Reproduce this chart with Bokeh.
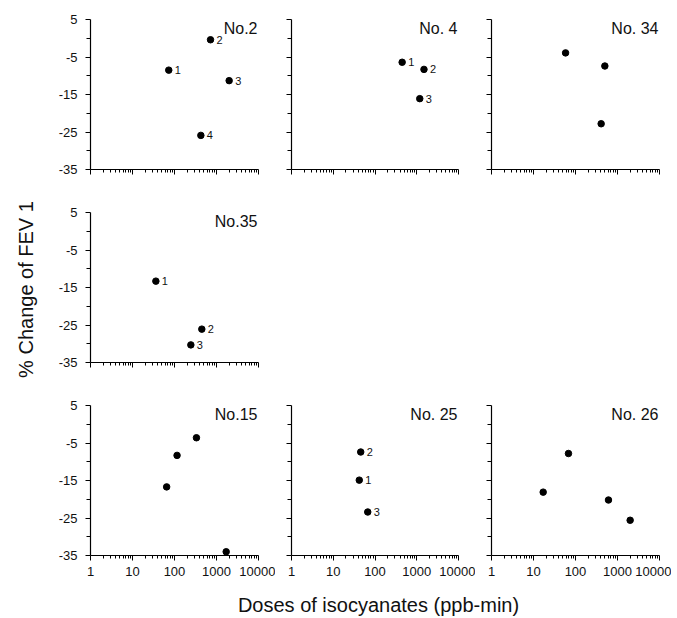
import math
from bokeh.plotting import figure
from bokeh.layouts import column, row
from bokeh.models import Range1d, FixedTicker, Label, CustomJSTickFormatter, ColumnDataSource
from bokeh.core.properties import value
from bokeh.embed import file_html
from bokeh.resources import INLINE

FONT = "Liberation Sans"

# ---- data ----
titles = ["No.2", "No. 4", "No. 34", "No.35", "No.15", "No. 25", "No. 26"]
x_no2 = [73, 720, 2000, 424]
y_no2 = [-8.5, -0.4, -11.3, -25.9]
l_no2 = ["1", "2", "3", "4"]
x_no4 = [447, 1490, 1180]
y_no4 = [-6.4, -8.3, -16.1]
l_no4 = ["1", "2", "3"]
x_no34 = [58, 500, 408]
y_no34 = [-3.9, -7.4, -22.8]
x_no35 = [36, 447, 245]
y_no35 = [-13.3, -26.1, -30.3]
l_no35 = ["1", "2", "3"]
x_no15 = [65, 115, 333, 1700]
y_no15 = [-16.7, -8.3, -3.6, -34.0]
x_no25 = [42, 45.5, 67]
y_no25 = [-14.9, -7.4, -23.4]
l_no25 = ["1", "2", "3"]
x_no26 = [17, 68, 610, 2000]
y_no26 = [-18.1, -7.8, -20.2, -25.6]

x_major = [1, 10, 100, 1000, 10000]
x_tick_labels = ["1", "10", "100", "1000", "10000"]
y_major = [-35, -25, -15, -5, 5]
y_minor = [-30, -20, -10, 0]
y_tick_labels = ["-35", "-25", "-15", "-5", "5"]

x_label = "Doses of isocyanates (ppb-min)"
y_label = "% Change of FEV 1"

x_minor = [m * d for d in [1, 10, 100, 1000] for m in range(2, 10)]
EMPTY = CustomJSTickFormatter(code="return ''")


def style_axis(a, tick_out, minor_out, standoff):
    a.axis_line_color = "black"
    a.axis_line_width = 1.2
    a.major_tick_in = 0
    a.major_tick_out = tick_out
    a.minor_tick_in = 0
    a.minor_tick_out = minor_out
    a.major_tick_line_color = "black"
    a.minor_tick_line_color = "black"
    a.major_label_text_font = FONT
    a.major_label_text_font_size = "13px"
    a.major_label_text_color = "#111111"
    a.major_label_standoff = standoff


def panel(title, xs, ys, labels, show_ylab, show_xlab, left, top, bottom, right, fw=168):
    p = figure(x_axis_type="log", x_range=Range1d(1, 10000), y_range=Range1d(-35, 5),
               frame_width=fw, frame_height=150, output_backend="svg",
               toolbar_location=None, title=None,
               min_border_left=left, min_border_top=top,
               min_border_bottom=bottom, min_border_right=right)
    p.outline_line_color = None
    p.grid.visible = False

    xa = p.xaxis[0]
    xa.ticker = FixedTicker(ticks=x_major, minor_ticks=x_minor)
    style_axis(xa, 5, 3, 6)
    if show_xlab:
        xa.major_label_overrides = {t: s for t, s in zip(x_major, x_tick_labels)}
    else:
        xa.formatter = EMPTY

    ya = p.yaxis[0]
    ya.ticker = FixedTicker(ticks=y_major, minor_ticks=y_minor)
    style_axis(ya, 5, 4, 8)
    if show_ylab:
        ya.major_label_overrides = {t: s for t, s in zip(y_major, y_tick_labels)}
    else:
        ya.formatter = EMPTY

    src = ColumnDataSource(dict(x=xs, y=ys, t=labels if labels else [""] * len(xs)))
    p.scatter("x", "y", source=src, size=6.5, color="black")
    if labels:
        p.text("x", "y", text="t", source=src, x_offset=6, text_baseline="middle",
               text_align="left", text_font=value(FONT), text_font_size="11px",
               text_color="#111111")

    p.add_layout(Label(x=10000, y=5, text=title, text_align="right", text_baseline="top",
                       x_offset=-1, y_offset=0, text_font=FONT, text_font_size="16px",
                       text_color="#111111"))
    return p


def text_fig(w, h):
    f = figure(width=w, height=h, x_range=Range1d(0, w), y_range=Range1d(0, h),
               output_backend="svg", toolbar_location=None, title=None,
               min_border=0)
    f.axis.visible = False
    f.grid.visible = False
    f.outline_line_color = None
    return f


p1 = panel(titles[0], x_no2, y_no2, l_no2, True, False, 42, 19, 35, 17)
p2 = panel(titles[1], x_no4, y_no4, l_no4, False, False, 16, 19, 35, 17, fw=167)
p3 = panel(titles[2], x_no34, y_no34, None, False, False, 16, 19, 35, 12)
p4 = panel(titles[3], x_no35, y_no35, l_no35, True, False, 42, 8, 35, 17)
p7 = panel(titles[4], x_no15, y_no15, None, True, True, 42, 8, 30, 17)
p8 = panel(titles[5], x_no25, y_no25, l_no25, False, True, 16, 8, 30, 17, fw=167)
p9 = panel(titles[6], x_no26, y_no26, None, False, True, 16, 8, 30, 12)

grid = column(row(p1, p2, p3), row(p4), row(p7, p8, p9))

ylab = text_fig(48, 585)
ylab.add_layout(Label(x=25, y=296, text=y_label, angle=math.pi / 2, text_align="center",
                      text_baseline="middle", text_font=FONT, text_font_size="20px",
                      text_color="#111111"))

xlab = text_fig(671, 32)
xlab.add_layout(Label(x=378, y=13, text=x_label, text_align="center",
                      text_baseline="middle", text_font=FONT, text_font_size="20px",
                      text_color="#111111"))

layout = column(row(ylab, grid), xlab)

open("out.html", "w").write(file_html(layout, INLINE))
